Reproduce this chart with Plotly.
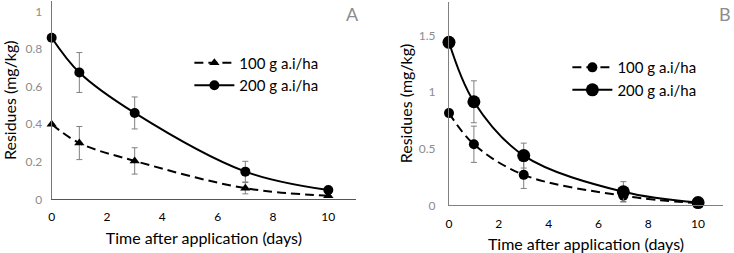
import plotly.graph_objects as go

days = [0, 1, 3, 7, 10]

# Panel A
a_100 = [0.40, 0.30, 0.205, 0.06, 0.02]
a_100_err = [0, 0.088, 0.07, 0.03, 0]
a_200 = [0.86, 0.675, 0.46, 0.148, 0.05]
a_200_err = [0, 0.106, 0.085, 0.055, 0]

# Panel B
b_100 = [0.815, 0.54, 0.27, 0.085, 0.02]
b_100_err = [0, 0.16, 0.12, 0.05, 0]
b_200 = [1.44, 0.915, 0.44, 0.12, 0.025]
b_200_err = [0, 0.185, 0.11, 0.09, 0]

a_yticks = [0, 0.2, 0.4, 0.6, 0.8, 1]
a_ylabels = ["0", "0.2", "0.4", "0.6", "0.8", "1"]
b_yticks = [0, 0.5, 1, 1.5]
b_ylabels = ["0", "0.5", "1", "1.5"]
xticks = [0, 2, 4, 6, 8, 10]

FONT = "Lato"
GREY = "#8c8c8c"
ERR = dict(type="data", thickness=1, width=3, color="#7f7f7f")

fig = go.Figure()

def add(x, y, err, name, dash, symbol, size, xa, ya, legend):
    fig.add_trace(go.Scatter(
        x=x, y=y, name=name, mode="lines+markers",
        line=dict(color="black", width=2, dash=dash, shape="spline", smoothing=1),
        marker=dict(symbol=symbol, size=size, color="black"),
        error_y=dict(array=err, **ERR),
        xaxis=xa, yaxis=ya, legend=legend, cliponaxis=False,
    ))

DASH = "9px,5px"
add(days, a_100, a_100_err, "100 g a.i/ha", DASH, "triangle-up", 9, "x", "y", "legend")
add(days, a_200, a_200_err, "200 g a.i/ha", "solid", "circle", 10, "x", "y", "legend")
add(days, b_100, b_100_err, "100 g a.i/ha", DASH, "circle", 10, "x2", "y2", "legend2")
add(days, b_200, b_200_err, "200 g a.i/ha", "solid", "circle", 13, "x2", "y2", "legend2")

line_common = dict(showline=True, linewidth=1, showgrid=False,
                   zeroline=False, ticks="", automargin=False)
xtick_font = dict(family=FONT, size=12, color="black")
ytick_font = dict(family=FONT, size=12, color=GREY)


def xtitle(standoff):
    return dict(text="Time after application (days)",
                font=dict(family=FONT, size=16, color="black"), standoff=standoff)


def ytitle(standoff):
    return dict(text="Residues (mg/kg)",
                font=dict(family=FONT, size=16, color="black"), standoff=standoff)


fig.update_layout(
    width=734, height=253,
    margin=dict(l=0, r=0, t=0, b=0, autoexpand=False),
    paper_bgcolor="white", plot_bgcolor="white",
    font=dict(family=FONT),
    xaxis=dict(domain=[0.0704, 0.485], range=[0, 11], tickvals=xticks, anchor="y", linecolor="#555555",
               tickfont=xtick_font, ticklabelstandoff=6, title=xtitle(9), **line_common),
    yaxis=dict(domain=[0.2115, 0.996], range=[0, 1.055], tickvals=a_yticks, ticktext=a_ylabels,
               anchor="x", linecolor="#777777",
               tickfont=ytick_font, ticklabelstandoff=6, title=ytitle(9), **line_common),
    xaxis2=dict(domain=[0.6117, 0.985], range=[0, 11], tickvals=xticks, anchor="y2", linecolor="#808080",
                tickfont=xtick_font, ticklabelstandoff=7, title=xtitle(10), **line_common),
    yaxis2=dict(domain=[0.188, 0.994], range=[0, 1.8], tickvals=b_yticks, ticktext=b_ylabels,
                anchor="x2", linecolor="#808080",
                tickfont=ytick_font, ticklabelstandoff=10, title=ytitle(2), **line_common),
    legend=dict(x=0.258, y=0.816, xanchor="left", yanchor="top", bgcolor="rgba(0,0,0,0)",
                font=dict(family=FONT, size=15, color="black"), itemwidth=40, tracegroupgap=0),
    legend2=dict(x=0.773, y=0.798, xanchor="left", yanchor="top", bgcolor="rgba(0,0,0,0)",
                 font=dict(family=FONT, size=15, color="black"), itemwidth=40, tracegroupgap=0),
    annotations=[
        dict(text="A", x=352 / 734, y=1 - 14 / 253, xref="paper", yref="paper", showarrow=False,
             xanchor="center", yanchor="middle", font=dict(family=FONT, size=18, color=GREY)),
        dict(text="B", x=733 / 734, y=1 - 14 / 253, xref="paper", yref="paper", showarrow=False,
             xanchor="right", yanchor="middle", font=dict(family=FONT, size=18, color=GREY)),
    ],
)

fig.write_html("out.html", config={"displayModeBar": False},
               post_script="document.body.style.margin='0';")
